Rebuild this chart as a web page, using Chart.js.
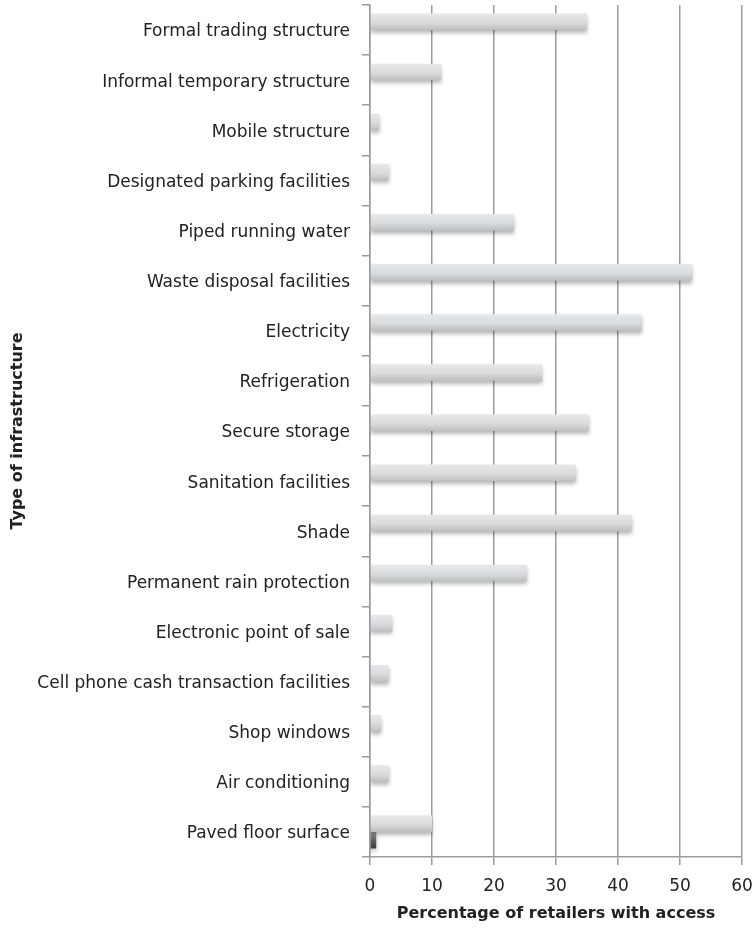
<!DOCTYPE html>
<html>
<head>
<meta charset="utf-8">
<script src="https://cdn.jsdelivr.net/npm/chart.js@4.4.1/dist/chart.umd.min.js"></script>
<style>
html,body{margin:0;padding:0;background:#fff;}
#wrap{width:756px;height:930px;}
</style>
</head>
<body>
<div id="wrap"><canvas id="grafico"></canvas></div>
<script>
const categorias = ['Formal trading structure','Informal temporary structure','Mobile structure',
'Designated parking facilities','Piped running water','Waste disposal facilities','Electricity',
'Refrigeration','Secure storage','Sanitation facilities','Shade','Permanent rain protection',
'Electronic point of sale','Cell phone cash transaction facilities','Shop windows',
'Air conditioning','Paved floor surface'];
const valoresAcesso = [35, 11.5, 1.5, 3, 23.2, 52, 43.8, 27.8, 35.3, 33.2, 42.2, 25.3, 3.6, 3, 1.8, 3, 10];
const valoresOutros = [0, 0, 0, 0, 0, 0, 0, 0, 0, 0, 0, 0, 0, 0, 0, 0, 1];
const ticksX = [0, 10, 20, 30, 40, 50, 60];

const catPct = 0.66;
const fonte = '"DejaVu Sans", "Open Sans", sans-serif';

// gradiente vertical em cada barra
function gradiente(ctx, cores, lado){
  const chart = ctx.chart;
  const y = chart.scales.y;
  if (!y || ctx.dataIndex === undefined) return cores[1];
  const c = y.getPixelForValue(ctx.dataIndex);
  const banda = (y.bottom - y.top) / categorias.length;
  const h = banda * catPct / 2;
  const top = lado === 0 ? c - h : c;
  if (!isFinite(top) || !isFinite(h) || h <= 0) return cores[1];
  const g = chart.ctx.createLinearGradient(0, top, 0, top + h);
  g.addColorStop(0, cores[0]);
  g.addColorStop(0.55, cores[1]);
  g.addColorStop(1, cores[2]);
  return g;
}

const sombra = {
  id: 'sombra',
  beforeDatasetsDraw(chart){
    const c = chart.ctx;
    c.save();
    c.shadowColor = 'rgba(0,0,0,0.28)';
    c.shadowBlur = 4;
    c.shadowOffsetY = 3;
  },
  afterDatasetsDraw(chart){
    chart.ctx.restore();
  }
};

const ctx_grafico = document.getElementById('grafico');
const grafico = new Chart(ctx_grafico, {
  type: 'bar',
  data: {
    labels: categorias,
    datasets: [{
      label: 'Access',
      data: valoresAcesso,
      backgroundColor: (ctx) => gradiente(ctx, ['#e7e8e9', '#dadbdd', '#bdbec0'], 0),
      borderWidth: 0
    }, {
      label: 'Other',
      data: valoresOutros,
      backgroundColor: (ctx) => gradiente(ctx, ['#9a9a9a', '#5a5a5a', '#3a3a3a'], 1),
      borderWidth: 0
    }]
  },
  options: {
    indexAxis: 'y',
    responsive: true,
    maintainAspectRatio: false,
    animation: false,
    categoryPercentage: catPct,
    barPercentage: 1,
    layout: { padding: { top: 5, right: 14, left: 0, bottom: 0 } },
    plugins: {
      legend: { display: false },
      tooltip: { enabled: false }
    },
    scales: {
      x: {
        min: 0,
        max: 60,
        afterBuildTicks: (s) => { s.ticks = ticksX.map(v => ({ value: v })); },
        afterFit: (s) => { s.height = 73; s.paddingLeft = 0; s.paddingRight = 0; },
        grid: { color: '#9b9b9b', lineWidth: 1.5, tickLength: 8, tickColor: '#9b9b9b' },
        border: { color: '#9b9b9b', width: 1.5 },
        ticks: { color: '#222', font: { family: fonte, size: 17 }, padding: 11 },
        title: {
          display: true,
          text: 'Percentage of retailers with access',
          color: '#222',
          font: { family: fonte, size: 16, weight: 'bold' },
          padding: { top: 8, bottom: 7 }
        }
      },
      y: {
        afterFit: (s) => { s.width = 370; s.paddingTop = 0; s.paddingBottom = 0; },
        grid: { display: true, drawOnChartArea: false, offset: true, tickLength: 8, color: '#9b9b9b', lineWidth: 1.5 },
        border: { color: '#9b9b9b', width: 1.5 },
        ticks: { color: '#222', font: { family: fonte, size: 17 }, padding: 12, labelOffset: 2, autoSkip: false },
        title: {
          display: true,
          text: 'Type of infrastructure',
          color: '#222',
          font: { family: fonte, size: 16, weight: 'bold' },
          padding: { top: 8, bottom: 0 }
        }
      }
    }
  },
  plugins: [sombra]
});
</script>
</body>
</html>
